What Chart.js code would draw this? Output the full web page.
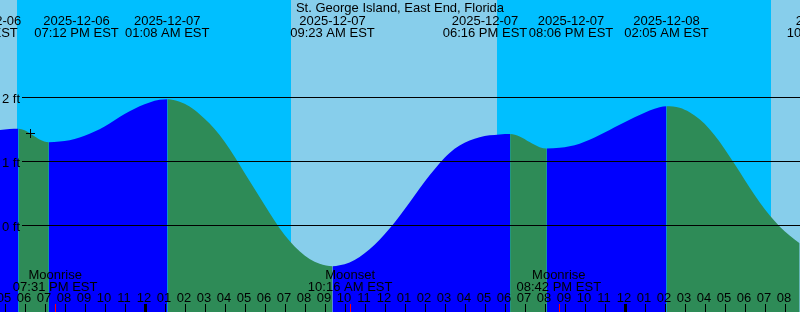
<!DOCTYPE html>
<html lang="en">
<head>
  <meta charset="UTF-8">
  <title>St. George Island, East End, Florida</title>
  <script src="https://cdn.jsdelivr.net/npm/chart.js"></script>
  <style>
    body { margin: 0; background: #87ceeb; }
    .wrap { width: 800px; height: 312px; position: relative; }
  </style>
</head>
<body>
  <div class="wrap"><canvas id="tideChart"></canvas></div>

  <script>
    // hours counted from 2025-12-06 00:00 EST
    const tideHours = [16.74, 17.24, 17.68, 17.99, 18.39, 18.74, 19.2, 19.74, 20.24, 20.74,
      21.24, 21.74, 22.24, 22.74, 23.24, 23.74, 24.24, 24.74, 25.133, 25.74,
      26.24, 26.74, 27.24, 27.74, 28.24, 28.74, 29.24, 29.74, 30.24, 30.74,
      31.24, 31.74, 32.24, 32.74, 33.383, 33.74, 34.24, 34.74, 35.24, 35.74,
      36.24, 36.74, 37.24, 37.74, 38.24, 38.74, 39.24, 39.74, 40.24, 40.74,
      41.24, 41.74, 42.267, 42.74, 43.24, 43.74, 44.1, 44.74, 45.24, 45.74,
      46.24, 46.74, 47.24, 47.74, 48.24, 48.74, 49.24, 49.74, 50.083, 50.74,
      51.24, 51.74, 52.24, 52.74, 53.24, 53.74, 54.24, 54.74, 55.24, 55.74,
      56.24, 56.74];
    const tideFeet = [1.49, 1.505, 1.51, 1.485, 1.41, 1.34, 1.297, 1.31, 1.33, 1.37,
      1.43, 1.50, 1.59, 1.69, 1.78, 1.86, 1.92, 1.96, 1.97, 1.93,
      1.855, 1.735, 1.59, 1.41, 1.19, 0.945, 0.69, 0.44, 0.19, -0.045,
      -0.245, -0.405, -0.525, -0.60, -0.64, -0.625, -0.58, -0.495, -0.375, -0.225,
      -0.05, 0.145, 0.355, 0.575, 0.78, 0.97, 1.13, 1.245, 1.325, 1.375,
      1.405, 1.42, 1.425, 1.387, 1.30, 1.22, 1.20, 1.21, 1.235, 1.275,
      1.335, 1.41, 1.49, 1.57, 1.65, 1.725, 1.795, 1.845, 1.86, 1.835,
      1.765, 1.655, 1.50, 1.305, 1.075, 0.835, 0.59, 0.36, 0.155, -0.02,
      -0.16, -0.28];

    const sunsetHours = [17.59, 41.59];
    const sunriseHours = [31.29, 55.29];

    const eventDates = ['2025-12-06', '2025-12-06', '2025-12-07', '2025-12-07', '2025-12-07', '2025-12-07', '2025-12-08', '2025-12-08'];
    const eventTimes = ['05:41 PM EST', '07:12 PM EST', '01:08 AM EST', '09:23 AM EST', '06:16 PM EST', '08:06 PM EST', '02:05 AM EST', '10:12 AM EST'];
    const dateLabelHours = [16.16, 20.585, 25.12, 33.385, 41.01, 45.31, 50.085, 58.21];
    const timeLabelHours = [15.535, 20.585, 25.12, 33.385, 41.01, 45.31, 50.085, 58.21];

    const moonNames = ['Moonrise', 'Moonset', 'Moonrise'];
    const moonTimes = ['07:31 PM EST', '10:16 AM EST', '08:42 PM EST'];
    const moonHours = [19.517, 34.267, 44.7];

    const footLevels = [2, 1, 0];
    const nowHour = 18.26;
    const nowFeet = 1.44;

    const FONT = '13px "Liberation Sans", Arial, sans-serif';
    const RISING = '#0000ff';
    const FALLING = '#2e8b57';

    const backdrop = {
      id: 'backdrop',
      beforeDraw(chart) {
        const { ctx, scales: { x } } = chart;
        ctx.save();
        ctx.fillStyle = '#87ceeb';
        ctx.fillRect(0, 0, chart.width, chart.height);
        ctx.fillStyle = '#00bfff';
        sunsetHours.forEach((s, i) => {
          const x0 = Math.round(x.getPixelForValue(s));
          const x1 = Math.round(x.getPixelForValue(sunriseHours[i]));
          ctx.fillRect(x0, 0, x1 - x0, chart.height);
        });
        ctx.restore();
      }
    };

    const overlay = {
      id: 'overlay',
      afterDatasetsDraw(chart) {
        const { ctx, chartArea: a, scales: { x, y } } = chart;
        ctx.save();
        ctx.font = FONT;
        ctx.fillStyle = '#000';
        ctx.strokeStyle = '#000';
        ctx.lineWidth = 1;

        // foot lines
        footLevels.forEach(f => {
          const py = Math.round(y.getPixelForValue(f)) + 0.5;
          ctx.beginPath();
          ctx.moveTo(22, py);
          ctx.lineTo(a.right, py);
          ctx.stroke();
          ctx.textAlign = 'left';
          ctx.fillText(f + ' ft', 2, py + 5);
        });

        // "now" cross
        const nx = Math.round(x.getPixelForValue(nowHour));
        const ny = Math.round(y.getPixelForValue(nowFeet));
        ctx.fillRect(nx - 4, ny, 9, 1);
        ctx.fillRect(nx, ny - 4, 1, 9);

        // title + tide events
        ctx.textAlign = 'center';
        ctx.fillText('St. George Island, East End, Florida', 400, 12);
        eventDates.forEach((d, i) => {
          ctx.fillText(d, x.getPixelForValue(dateLabelHours[i]), 25);
          ctx.fillText(eventTimes[i], x.getPixelForValue(timeLabelHours[i]), 37);
        });

        // moon events
        moonNames.forEach((m, i) => {
          const px = x.getPixelForValue(moonHours[i]);
          ctx.fillText(m, px, 279);
          ctx.fillText(moonTimes[i], px, 291);
        });

        // hour ticks
        for (let h = Math.ceil(x.min); h <= Math.floor(x.max); h++) {
          const px = Math.round(x.getPixelForValue(h));
          const hr = (h % 12) || 12;
          ctx.fillText(String(hr).padStart(2, '0'), px - 1, 302);
          const w = (h % 24 === 0) ? 3 : 1;
          ctx.fillRect(px - Math.floor(w / 2), 304, w, 8);
        }
        ctx.fillStyle = '#ff0000';
        moonHours.forEach(m => {
          const px = Math.round(x.getPixelForValue(m));
          ctx.fillRect(px, 304, 1, 8);
        });
        ctx.restore();
      }
    };

    new Chart(document.getElementById('tideChart'), {
      type: 'line',
      data: {
        datasets: [{
          data: tideHours.map((h, i) => ({ x: h, y: tideFeet[i] })),
          fill: 'start',
          backgroundColor: RISING,
          borderColor: 'rgba(0,0,0,0)',
          borderWidth: 1,
          pointRadius: 0,
          cubicInterpolationMode: 'monotone',
          segment: {
            backgroundColor: c => c.p1.parsed.y > c.p0.parsed.y ? RISING : FALLING
          }
        }]
      },
      options: {
        responsive: true,
        maintainAspectRatio: false,
        animation: false,
        events: [],
        layout: { padding: 0, autoPadding: false },
        plugins: { legend: { display: false }, tooltip: { enabled: false } },
        scales: {
          x: { type: 'linear', min: 16.76, max: 56.76, display: false },
          y: { min: -1.355, max: 3.52, display: false }
        }
      },
      plugins: [backdrop, overlay]
    });
  </script>
</body>
</html>
